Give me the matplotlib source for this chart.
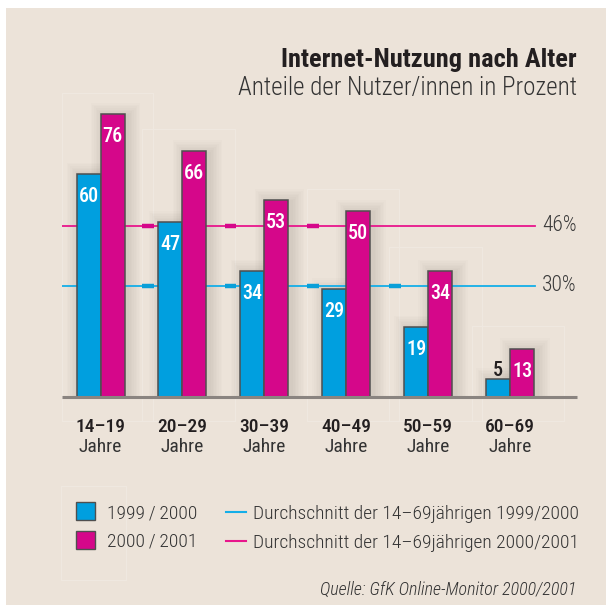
import matplotlib
matplotlib.use("Agg")
import matplotlib.pyplot as plt
from matplotlib.patches import Rectangle
from matplotlib.lines import Line2D
from matplotlib.font_manager import FontProperties, fontManager

# ---- data ----
age_groups = ["14\u201319", "20\u201329", "30\u201339", "40\u201349", "50\u201359", "60\u201369"]
share_1999 = [60, 47, 34, 29, 19, 5]
share_2000 = [76, 66, 53, 50, 34, 13]
avg_1999 = 30
avg_2000 = 46
series_labels = ["1999/2000", "2000/2001"]
avg_labels = ["Durchschnitt der 14\u201369j\u00e4hrigen 1999/2000",
              "Durchschnitt der 14\u201369j\u00e4hrigen 2000/2001"]
title = "Internet-Nutzung nach Alter"
subtitle = "Anteile der Nutzer/innen in Prozent"
source = "Quelle: GfK Online-Monitor 2000/2001"

# ---- style ----
BG = "#ECE3D9"
BLUE = "#009FDF"
MAGENTA = "#D5078A"
BLUE_LINE = "#14AEE8"
MAG_LINE = "#E8168C"
EDGE = "#4f4f4f"
TXT = "#231f20"
TXT2 = "#333333"

W, H = 606, 605

# ---- pick a condensed face if one is installed ----
def _is_condensed(e):
    s = str(e.stretch).lower()
    n = (e.name + " " + e.fname).lower()
    return ("condensed" in s) or ("narrow" in n) or ("condensed" in n)

_pref = ["roboto condensed", "liberation sans narrow", "noto sans", "open sans", "dejavu sans"]

def _rank(e):
    n = e.name.lower()
    for i, p in enumerate(_pref):
        if n.startswith(p):
            return i
    return len(_pref)

def _weight(e):
    w = e.weight
    if isinstance(w, str):
        w = {"ultralight": 200, "light": 300, "normal": 400, "regular": 400, "book": 400,
             "medium": 500, "semibold": 600, "demibold": 600, "bold": 700,
             "heavy": 800, "extra bold": 800, "black": 900}.get(w, 400)
    return w

_cands = [e for e in fontManager.ttflist if _is_condensed(e)]

def cfont(size, weight=400, italic=False):
    pool = [e for e in _cands if (e.style == "italic" or e.style == "oblique") == italic]
    if not pool:
        pool = _cands
    if not pool:
        return FontProperties(family="DejaVu Sans", size=size,
                              weight=weight, style="italic" if italic else "normal")
    best = min(pool, key=lambda e: (_rank(e), abs(_weight(e) - weight)))
    return FontProperties(fname=best.fname, size=size)

fig = plt.figure(figsize=(W / 100, H / 100), dpi=100)
fig.patch.set_facecolor("white")

def fx(px):
    return px / W

def fy(py):
    return 1 - py / H

# beige panel
fig.add_artist(Rectangle((fx(6), 0), 1 - fx(6), fy(8), transform=fig.transFigure,
                         facecolor=BG, edgecolor="none", zorder=-3))

# faint light frames in the background
for (x0, y0, x1, y1) in [(62, 93, 153, 421), (142, 129, 235, 421), (307, 189, 399, 421),
                         (389, 247, 482, 421), (472, 326, 564, 421), (61, 486, 126, 580)]:
    fig.add_artist(Rectangle((fx(x0), fy(y1)), fx(x1) - fx(x0), fy(y0) - fy(y1),
                             transform=fig.transFigure, facecolor="none",
                             edgecolor="#F0E9E1", linewidth=0.7, zorder=-2))

# ---- axes: one unit on x = one age group, y in percent ----
X_UNIT = 81.9      # px per group
Y_UNIT = 3.73      # px per percent
X0_PX = 100.5      # px of first group centre
BASE_PX = 397.4
LEFT_PX, RIGHT_PX = 61.8, 576.7
YTOP = 80

ax = fig.add_axes([fx(LEFT_PX), (H - BASE_PX) / H, (RIGHT_PX - LEFT_PX) / W, YTOP * Y_UNIT / H])
ax.set_xlim((LEFT_PX - X0_PX) / X_UNIT, (RIGHT_PX - X0_PX) / X_UNIT)
ax.set_ylim(0, YTOP)
ax.set_facecolor("none")
ax.axis("off")

bw = 24 / X_UNIT
xs = list(range(len(age_groups)))

def px2dx(p):
    return p / X_UNIT

def px2dy(p):
    return p / Y_UNIT

# soft shadows behind bars
for i in xs:
    for left, h in [(i - bw, share_1999[i]), (i, share_2000[i])]:
        for k in range(1, 9):
            g = 1.6 * k
            ax.add_patch(Rectangle((left + px2dx(3 - g), 0), bw + px2dx(2 * g), h + px2dy(g - 2),
                                   facecolor="#4a3b2c", edgecolor="none", alpha=0.016,
                                   zorder=1))

# average lines
line_end = (534.6 - X0_PX) / X_UNIT
ax.plot([ax.get_xlim()[0], line_end], [avg_2000, avg_2000], color=MAG_LINE, lw=1.3, zorder=2)
ax.plot([ax.get_xlim()[0], line_end], [avg_1999, avg_1999], color=BLUE_LINE, lw=1.3, zorder=2)
for p in [142, 224.6, 307]:
    a = (p - X0_PX) / X_UNIT
    ax.plot([a, a + px2dx(11.5)], [avg_2000] * 2, color=MAGENTA, lw=3.2,
            solid_capstyle="butt", zorder=2)
for p in [142, 224.6, 307, 389]:
    a = (p - X0_PX) / X_UNIT
    ax.plot([a, a + px2dx(11.5)], [avg_1999] * 2, color="#0a9fd8", lw=3.2,
            solid_capstyle="butt", zorder=2)

# bars
b1 = ax.bar([x - bw / 2 for x in xs], share_1999, width=bw, color=BLUE,
            edgecolor=EDGE, linewidth=1.1, zorder=3)
b2 = ax.bar([x + bw / 2 for x in xs], share_2000, width=bw, color=MAGENTA,
            edgecolor=EDGE, linewidth=1.1, zorder=3)

# baseline
ax.plot(ax.get_xlim(), [0, 0], color="#8a8480", lw=2.2, zorder=4, solid_capstyle="butt",
        clip_on=False)

# value labels
val_fp = cfont(14.5, 500)
for bars, vals in [(b1, share_1999), (b2, share_2000)]:
    for rect, v in zip(bars, vals):
        cx = rect.get_x() + rect.get_width() / 2
        if v >= 10:
            ax.annotate(f"{v}", (cx, v), xytext=(0, -20.2), textcoords="offset points",
                        ha="center", va="baseline", color="white", fontproperties=val_fp,
                        zorder=5)
        else:
            ax.annotate(f"{v}", (cx, v), xytext=(0, 2.2), textcoords="offset points",
                        ha="center", va="baseline", color=TXT, fontproperties=val_fp,
                        zorder=5)

# average value labels
pct_fp = cfont(15.5, 300)
for v in [avg_2000, avg_1999]:
    ax.text((576.5 - X0_PX) / X_UNIT, v, f"{v}%", ha="right", va="center",
            color="#3a3a3a", fontproperties=pct_fp, zorder=5)

# category labels
cat_fp = cfont(14, 500)
jahre_fp = cfont(14, 400)
for i, lab in enumerate(age_groups):
    ax.text(i, px2dy(BASE_PX - 432), lab, ha="center", va="baseline", color=TXT,
            fontproperties=cat_fp, zorder=6)
    ax.text(i, px2dy(BASE_PX - 452), "Jahre", ha="center", va="baseline", color=TXT2,
            fontproperties=jahre_fp, zorder=6)

# titles
fig.text(fx(577), fy(67), title, ha="right", va="baseline", color=TXT,
         fontproperties=cfont(19, 700))
fig.text(fx(577), fy(95), subtitle, ha="right", va="baseline", color=TXT2,
         fontproperties=cfont(18, 300))

# legend
leg_fp = cfont(14, 300)
for j, (col, lab) in enumerate(zip([BLUE, MAGENTA], series_labels)):
    yc = 511 + j * 29
    fig.add_artist(Rectangle((fx(76), fy(yc + 9)), fx(19), 18 / H, transform=fig.transFigure,
                             facecolor=col, edgecolor=EDGE, linewidth=1.0, zorder=3))
    fig.text(fx(107), fy(yc + 7), lab.replace("/", "\u2009/\u2009"), ha="left",
             va="baseline", color=TXT2, fontproperties=leg_fp)
for j, (col, lab) in enumerate(zip([BLUE_LINE, MAG_LINE], avg_labels)):
    yc = 512 + j * 29
    fig.add_artist(Line2D([fx(226), fx(246)], [fy(yc), fy(yc)], transform=fig.transFigure,
                          color=col, lw=1.5))
    fig.text(fx(253), fy(yc + 7), lab, ha="left", va="baseline", color=TXT2,
             fontproperties=leg_fp)

fig.text(fx(576), fy(595), source, ha="right", va="baseline", color=TXT2,
         fontproperties=cfont(13, 300, italic=True))

fig.savefig("out.png", dpi=100, facecolor=fig.get_facecolor())
